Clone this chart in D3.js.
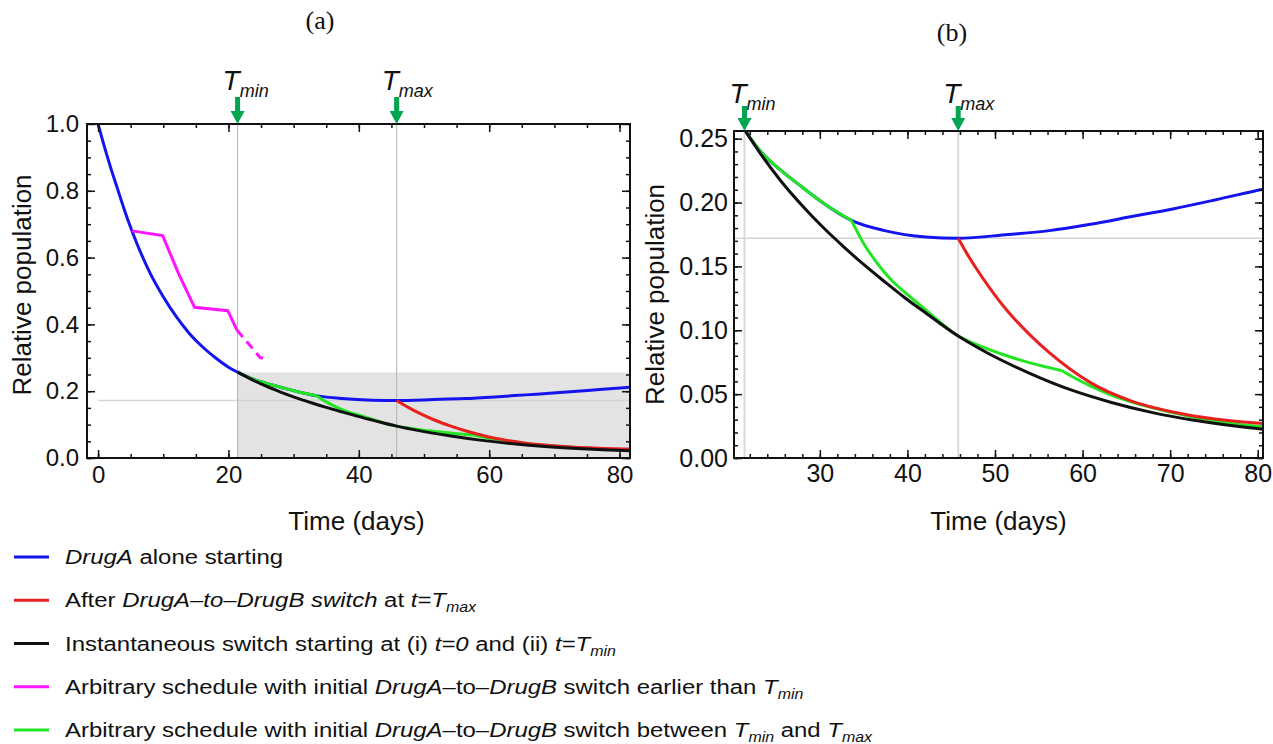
<!DOCTYPE html>
<html>
<head>
<meta charset="utf-8">
<script src="https://cdn.jsdelivr.net/npm/d3@7"></script>
<style>
  body { margin: 0; background: #fff; }
  svg { display: block; }
  text { fill: #111; }
</style>
</head>
<body>
<svg id="chart" width="1273" height="744"></svg>
<script>
// switch times and the DrugA minimum
const tMin = 21.4;
const tMax = 45.8;
const blueMin = 0.172;
const zoomTop = 0.256;

// DrugA alone
const blueT = [0, 1, 2, 3, 4, 5, 6, 8, 10, 12, 14, 16, 18, 20, 21.4, 23.3, 25.6, 28, 30.3, 33.6, 37.4, 42.1, 45.8, 51.5, 56.2, 60.9, 65.6, 70.3, 75.1, 80.6, 82];
const blueV = [1.0, 0.93, 0.865, 0.805, 0.745, 0.69, 0.64, 0.553, 0.483, 0.423, 0.373, 0.333, 0.300, 0.272, 0.257, 0.2395, 0.225, 0.212, 0.2, 0.186, 0.178, 0.173, 0.172, 0.175, 0.178, 0.183, 0.189, 0.195, 0.202, 0.2105, 0.2125];

// switch at Tmax
const redT = [45.8, 46.8, 48, 49.2, 51.5, 53.9, 56.2, 58.6, 60.9, 65.6, 70.3, 75.1, 80.6, 82];
const redV = [0.172, 0.160, 0.147, 0.135, 0.1145, 0.097, 0.0825, 0.0695, 0.059, 0.0445, 0.036, 0.0305, 0.027, 0.0265];

// instantaneous switch
const blackT = [21.4, 23.3, 25.6, 28, 30.3, 32.7, 35, 37.4, 39.7, 42.1, 45.8, 49.2, 53.9, 58.6, 63.3, 68, 72.7, 77.4, 80.6, 82];
const blackV = [0.257, 0.2375, 0.2165, 0.1975, 0.181, 0.1655, 0.1515, 0.138, 0.1255, 0.1135, 0.0955, 0.082, 0.0665, 0.0535, 0.0435, 0.0355, 0.0295, 0.025, 0.0225, 0.0215];

// arbitrary schedule, first switch before Tmin (dashed after dashFrom)
const magentaT = [5.17, 9.9, 12.4, 14.8, 19.9, 21.3, 23.1, 24.9, 25.7];
const magentaV = [0.68, 0.666, 0.55, 0.451, 0.441, 0.383, 0.342, 0.300, 0.2985];
const magentaDashFrom = 21.3;

// arbitrary schedule, first switch between Tmin and Tmax
const greenT = [21.4, 23.3, 25.6, 28, 30.3, 33.6, 35, 36.5, 38, 40, 42, 45.8, 48, 51, 54, 57.6, 59, 61, 63, 66, 70, 75, 80.6, 82];
const greenV = [0.257, 0.2395, 0.225, 0.212, 0.2, 0.186, 0.168, 0.153, 0.1405, 0.128, 0.1165, 0.0955, 0.0885, 0.0808, 0.0745, 0.0685, 0.063, 0.056, 0.050, 0.043, 0.036, 0.029, 0.0245, 0.024];
const greenSwitches = [33.6, 57.6];

const xTicksA = [0, 20, 40, 60, 80];
const yTicksA = [0, 0.2, 0.4, 0.6, 0.8, 1.0];
const xTicksB = [30, 40, 50, 60, 70, 80];
const yTicksB = [0, 0.05, 0.10, 0.15, 0.20, 0.25];

const colors = { blue: "#1414ee", red: "#e8201e", black: "#111111", magenta: "#ff14ff", green: "#22e622", arrow: "#00a550" };
const sans = "Liberation Sans, Arial, sans-serif";

const svg = d3.select("#chart");
const pts = (ts, vs) => ts.map((t, i) => [t, vs[i]]);

function splitAt(data, cuts) {
  const segs = [];
  let cur = [];
  data.forEach(d => {
    cur.push(d);
    if (cuts.includes(d[0])) { segs.push(cur); cur = [d]; }
  });
  if (cur.length > 1) segs.push(cur);
  return segs;
}

function drawPanel(p) {
  const g = svg.append("g").style("font-family", sans);
  const x = d3.scaleLinear().domain(p.xDomain).range([p.left, p.right]);
  const y = d3.scaleLinear().domain(p.yDomain).range([p.bottom, p.top]);
  const W = p.right - p.left, H = p.bottom - p.top;

  g.append("clipPath").attr("id", p.id + "clip")
    .append("rect").attr("x", p.left).attr("y", p.top).attr("width", W).attr("height", H);
  const plot = g.append("g").attr("clip-path", `url(#${p.id}clip)`);

  if (p.shade) {
    plot.append("rect")
      .attr("x", x(tMin)).attr("y", y(zoomTop))
      .attr("width", p.right - x(tMin)).attr("height", y(0) - y(zoomTop))
      .attr("fill", "#e3e3e3");
  }
  plot.append("line")
    .attr("x1", x(0)).attr("x2", p.right)
    .attr("y1", y(blueMin)).attr("y2", y(blueMin))
    .attr("stroke", "#d4d4d4").attr("stroke-width", 1.5);
  [tMin, tMax].forEach(t => {
    plot.append("line")
      .attr("x1", x(t)).attr("x2", x(t)).attr("y1", p.top).attr("y2", p.bottom)
      .attr("stroke", p.vColor).attr("stroke-width", p.vWidth);
  });

  const line = d3.line().x(d => x(d[0])).y(d => y(d[1])).curve(d3.curveMonotoneX);
  const draw = (data, color) => plot.append("path")
    .attr("d", line(data)).attr("fill", "none")
    .attr("stroke", color).attr("stroke-width", 3);

  draw(pts(blueT, blueV), colors.blue);
  if (p.magenta) {
    const m = pts(magentaT, magentaV);
    const lin = d3.line().x(d => x(d[0])).y(d => y(d[1]));
    plot.append("path").attr("d", lin(m.filter(d => d[0] <= magentaDashFrom)))
      .attr("fill", "none").attr("stroke", colors.magenta).attr("stroke-width", 3);
    plot.append("path").attr("d", lin(m.filter(d => d[0] >= magentaDashFrom)))
      .attr("fill", "none").attr("stroke", colors.magenta).attr("stroke-width", 3)
      .attr("stroke-dasharray", "9,6");
  }
  splitAt(pts(greenT, greenV), greenSwitches).forEach(s => draw(s, colors.green));
  draw(pts(redT, redV), colors.red);
  draw(pts(blackT, blackV), colors.black);

  // ticks, pointing inward on all four sides
  const tickAxis = (axis, vals, size, fmt) => axis.tickValues(vals).tickSize(size).tickPadding(p.pad).tickFormat(fmt);
  const none = () => "";
  const xMinor = d3.range(p.xMinorFrom, p.xDomain[1], p.xMinorStep).filter(v => v >= p.xDomain[0]);
  const yMinor = d3.range(0, p.yDomain[1], p.yMinorStep);

  g.append("g").attr("transform", `translate(0,${p.bottom})`)
    .call(tickAxis(d3.axisBottom(x), xMinor, -4, none));
  g.append("g").attr("transform", `translate(0,${p.bottom})`)
    .call(tickAxis(d3.axisBottom(x), p.xTicks, -8, d3.format("d")));
  g.append("g").attr("transform", `translate(0,${p.top})`)
    .call(tickAxis(d3.axisTop(x), xMinor, -4, none));
  g.append("g").attr("transform", `translate(0,${p.top})`)
    .call(tickAxis(d3.axisTop(x), p.xTicks, -8, none));
  g.append("g").attr("transform", `translate(${p.left},0)`)
    .call(tickAxis(d3.axisLeft(y), yMinor, -4, none));
  g.append("g").attr("transform", `translate(${p.left},0)`)
    .call(tickAxis(d3.axisLeft(y), p.yTicks, -8, d3.format(p.yFmt)));
  g.append("g").attr("transform", `translate(${p.right},0)`)
    .call(tickAxis(d3.axisRight(y), yMinor, -4, none));
  g.append("g").attr("transform", `translate(${p.right},0)`)
    .call(tickAxis(d3.axisRight(y), p.yTicks, -8, none));
  g.selectAll(".domain").remove();
  g.selectAll(".tick line").attr("stroke", "#111").attr("stroke-width", 1.5);
  g.selectAll(".tick text").attr("font-size", p.tickFont).attr("fill", "#111")
    .attr("font-family", sans);

  g.append("rect").attr("x", p.left).attr("y", p.top).attr("width", W).attr("height", H)
    .attr("fill", "none").attr("stroke", "#111").attr("stroke-width", 2);

  // green arrows and T labels
  [[tMin, "min"], [tMax, "max"]].forEach(([t, sub]) => {
    const ax = x(t), ty = p.top;
    const L = p.arrowLen;
    g.append("path")
      .attr("d", `M${ax - 2.5},${ty - L} H${ax + 2.5} V${ty - 13} H${ax + 7} L${ax},${ty} L${ax - 7},${ty - 13} H${ax - 2.5} Z`)
      .attr("fill", colors.arrow);
    const lab = g.append("text").attr("x", ax - 15).attr("y", ty - p.labelUp);
    lab.append("tspan").text("T").attr("font-style", "italic").attr("font-size", 28);
    lab.append("tspan").text(sub).attr("font-style", "italic").attr("font-size", 18).attr("dy", 7);
  });

  g.append("text").text("Time (days)")
    .attr("x", (p.left + p.right) / 2 + p.xTitleShift).attr("y", 530)
    .attr("text-anchor", "middle").attr("font-size", 26);
  g.append("text").text("Relative population")
    .attr("transform", `translate(${p.yTitleX},${(p.top + p.bottom) / 2 + p.yTitleShift}) rotate(-90)`)
    .attr("text-anchor", "middle").attr("font-size", 26);
  g.append("text").text(p.title)
    .attr("x", p.titleX).attr("y", p.titleY).attr("text-anchor", "middle")
    .style("font-family", "Liberation Serif, Times New Roman, serif").attr("font-size", 26);
}

drawPanel({
  id: "a", left: 87, right: 630, top: 124, bottom: 458,
  xDomain: [-1.7, 81.6], yDomain: [0, 1.0],
  xTicks: xTicksA, yTicks: yTicksA, yFmt: ".1f",
  xMinorFrom: 0, xMinorStep: 5, yMinorStep: 0.05,
  tickFont: 24, pad: 8, shade: true, magenta: true,
  vColor: "#b4b4b4", vWidth: 1, arrowLen: 27, labelUp: 34,
  xTitleShift: -2, yTitleX: 31, yTitleShift: -6, title: "(a)", titleX: 320, titleY: 29
});

drawPanel({
  id: "b", left: 734, right: 1263, top: 131, bottom: 458,
  xDomain: [20.2, 80.6], yDomain: [0, zoomTop],
  xTicks: xTicksB, yTicks: yTicksB, yFmt: ".2f",
  xMinorFrom: 20, xMinorStep: 2, yMinorStep: 0.01,
  tickFont: 25, pad: 6, shade: false, magenta: false,
  vColor: "#dadada", vWidth: 2, arrowLen: 25, labelUp: 28,
  xTitleShift: 0, yTitleX: 664, yTitleShift: 0, title: "(b)", titleX: 952, titleY: 41
});

// legend
const legendItems = [
  { color: colors.blue, parts: [["DrugA", "i"], [" alone starting", ""]] },
  { color: colors.red, parts: [["After ", ""], ["DrugA\u2013to\u2013DrugB switch", "i"], [" at ", ""], ["t=T", "i"], ["max", "s"]] },
  { color: colors.black, parts: [["Instantaneous switch starting at (i) ", ""], ["t=0", "i"], [" and (ii) ", ""], ["t=T", "i"], ["min", "s"]] },
  { color: colors.magenta, parts: [["Arbitrary schedule with initial ", ""], ["DrugA", "i"], ["\u2013to\u2013", ""], ["DrugB", "i"], [" switch earlier than ", ""], ["T", "i"], ["min", "s"]] },
  { color: colors.green, parts: [["Arbitrary schedule with initial ", ""], ["DrugA", "i"], ["\u2013to\u2013", ""], ["DrugB", "i"], [" switch between ", ""], ["T", "i"], ["min", "s"], [" and ", ""], ["T", "i"], ["max", "s"]] }
];
const legendY = d3.scalePoint().domain(d3.range(legendItems.length)).range([557, 730]);

legendItems.forEach((item, i) => {
  const cy = legendY(i);
  svg.append("line").attr("x1", 14).attr("x2", 49).attr("y1", cy).attr("y2", cy)
    .attr("stroke", item.color).attr("stroke-width", 3);
  const txt = svg.append("text")
    .attr("transform", `translate(65,${cy + 7}) scale(1.14,1)`)
    .style("font-family", sans).attr("font-size", 21);
  let sub = false;
  item.parts.forEach(([s, kind]) => {
    const ts = txt.append("tspan").text(s);
    if (kind === "i") ts.attr("font-style", "italic");
    if (kind === "s") { ts.attr("font-style", "italic").attr("font-size", 14).attr("dy", 5); sub = true; }
    else if (sub) { ts.attr("dy", -5); sub = false; }
  });
});
</script>
</body>
</html>
